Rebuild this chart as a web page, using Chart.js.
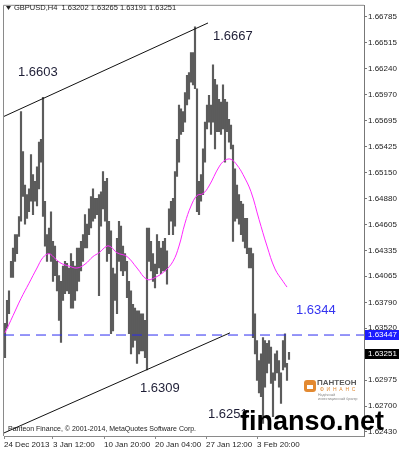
<!DOCTYPE html>
<html lang="en">
<head>
    <meta charset="UTF-8">
    <title>GBPUSD,H4</title>
    <script src="https://cdn.jsdelivr.net/npm/chart.js"></script>
    <style>
        html, body { margin: 0; padding: 0; background: #fff; }
        #grafico { display: block; }
    </style>
</head>
<body>
<canvas id="grafico" width="399" height="450"></canvas>

<script>
    // H4 bars, one per index (high / low)
    const barHigh = [
        1.6357, 1.6381, 1.6391, 1.6422, 1.6436, 1.6450, 1.6450, 1.6469, 1.6579, 1.6537,
        1.6502, 1.6492, 1.6498, 1.6534, 1.6513, 1.6506, 1.6521, 1.6547, 1.6550, 1.6594,
        1.6485, 1.6450, 1.6457, 1.6474, 1.6443, 1.6438, 1.6422, 1.6407, 1.6401, 1.6417,
        1.6422, 1.6420, 1.6415, 1.6430, 1.6422, 1.6417, 1.6436, 1.6436, 1.6443, 1.6450,
        1.6471, 1.6461, 1.6477, 1.6490, 1.6498, 1.6488, 1.6488, 1.6492, 1.6495, 1.6516,
        1.6506, 1.6509, 1.6464, 1.6454, 1.6415, 1.6409, 1.6446, 1.6464, 1.6459, 1.6438,
        1.6430, 1.6422, 1.6401, 1.6391, 1.6377, 1.6373, 1.6370, 1.6370, 1.6367, 1.6367,
        1.6360, 1.6457, 1.6457, 1.6443, 1.6430, 1.6419, 1.6450, 1.6443, 1.6436, 1.6443,
        1.6446, 1.6433, 1.6477, 1.6485, 1.6488, 1.6516, 1.6550, 1.6586, 1.6582, 1.6579,
        1.6599, 1.6617, 1.6620, 1.6641, 1.6641, 1.6668, 1.6603, 1.6506, 1.6513, 1.6540,
        1.6568, 1.6586, 1.6596, 1.6586, 1.6628, 1.6613, 1.6607, 1.6592, 1.6589, 1.6607,
        1.6592, 1.6589, 1.6571, 1.6565, 1.6544, 1.6519, 1.6502, 1.6492, 1.6485, 1.6482,
        1.6467, 1.6467, 1.6436, 1.6436, 1.6430, 1.6367, 1.6339, 1.6318, 1.6325, 1.6342,
        1.6339, 1.6336, 1.6339, 1.6332, 1.6305, 1.6325, 1.6328, 1.6318, 1.6305, 1.6339,
        1.6346, 1.6315, 1.63265
    ];
    const barLow = [
        1.6321, 1.6352, 1.6367, 1.6405, 1.6405, 1.6422, 1.6430, 1.6448, 1.6464, 1.6490,
        1.6461, 1.6467, 1.6474, 1.6485, 1.6471, 1.6485, 1.6480, 1.6498, 1.6526, 1.6469,
        1.6438, 1.6422, 1.6430, 1.6422, 1.6401, 1.6407, 1.6391, 1.6360, 1.6337, 1.6381,
        1.6388, 1.6391, 1.6388, 1.6373, 1.6373, 1.6381, 1.6391, 1.6401, 1.6412, 1.6422,
        1.6436, 1.6436, 1.6450, 1.6457, 1.6464, 1.6467, 1.6471, 1.6386, 1.6459, 1.6477,
        1.6464, 1.6422, 1.6430, 1.6346, 1.6349, 1.6381, 1.6367, 1.6422, 1.6412, 1.6407,
        1.6412, 1.6384, 1.6346, 1.6325, 1.6332, 1.6339, 1.6315, 1.6325, 1.6328, 1.6328,
        1.6321, 1.6308, 1.6422, 1.6412, 1.6401, 1.6394, 1.6409, 1.6415, 1.6409, 1.6412,
        1.6412, 1.6398, 1.6450, 1.6464, 1.6450, 1.6459, 1.6511, 1.6526, 1.6555, 1.6558,
        1.6568, 1.6586, 1.6592, 1.6610, 1.6607, 1.6603, 1.6474, 1.6471, 1.6485, 1.6492,
        1.6526, 1.6561, 1.6568, 1.6555, 1.6568, 1.6540, 1.6558, 1.6558, 1.6555, 1.6561,
        1.6526, 1.6558, 1.6547, 1.6540, 1.6443, 1.6464, 1.6467, 1.6461, 1.6450, 1.6443,
        1.6436, 1.6430, 1.6415, 1.6415, 1.6342, 1.6325, 1.6297, 1.6284, 1.6280, 1.6252,
        1.6290, 1.6305, 1.6315, 1.6294, 1.6259, 1.6297, 1.6305, 1.6290, 1.6273, 1.6308,
        1.6311, 1.6297, 1.63191
    ];

    // moving average (magenta), sampled along the curve
    const maIndex = [0, 4, 8, 12, 16, 19, 22, 25, 28, 32, 36, 40, 44, 47, 51, 53, 56, 61, 66, 71,
                     75, 80, 84, 87, 90, 93, 96, 99, 102, 107, 110, 113, 116, 119, 123, 127, 131, 135, 139, 141];
    const maValue = [1.6347, 1.6365, 1.6383, 1.6399, 1.6415, 1.6426, 1.6430, 1.6425, 1.6420, 1.6417,
                     1.6415, 1.6419, 1.6427, 1.6431, 1.6438, 1.6437, 1.6431, 1.6427, 1.6415, 1.6403,
                     1.6405, 1.6412, 1.6422, 1.6438, 1.6462, 1.6480, 1.6491, 1.6493, 1.6501, 1.6521,
                     1.6528, 1.6529, 1.6523, 1.6513, 1.6495, 1.6466, 1.6438, 1.6414, 1.6401, 1.6395];

    // channel lines (bar index / price at both ends)
    const channelUpIdx = [-0.5, 101.5];
    const channelUpVal = [1.6574, 1.6672];
    const channelLowIdx = [-0.5, 112.5];
    const channelLowVal = [1.6242, 1.6347];

    const levelValue = 1.63447;
    const lastClose = 1.63251;

    const yTicks = [1.66785, 1.66515, 1.66240, 1.65970, 1.65695, 1.65425, 1.65150, 1.64880,
                    1.64605, 1.64335, 1.64065, 1.63790, 1.63520, 1.62975, 1.62700, 1.62430];
    const xTickIdx = [-0.5, 24, 49.5, 75, 100.5, 126];
    const xTickLabels = ['24 Dec 2013', '3 Jan 12:00', '10 Jan 20:00', '20 Jan 04:00', '27 Jan 12:00', '3 Feb 20:00'];

    // notes written on the chart
    const noteText = ['1.6603', '1.6667', '1.6344', '1.6309', '1.6251'];
    const noteIdx = [6.5, 104, 145.5, 67.5, 101.5];
    const noteVal = [1.6620, 1.6658, 1.6371, 1.6289, 1.6261];
    const noteColor = ['#1e1e36', '#1e1e36', '#3434f0', '#1e1e36', '#1e1e36'];

    const FONT = "'Liberation Sans', Arial, sans-serif";

    const extras = {
        id: 'extras',
        beforeDatasetsDraw(chart) {
            const ctx = chart.ctx, a = chart.chartArea;
            ctx.save();
            ctx.strokeStyle = '#8a8a8a';
            ctx.lineWidth = 1;
            ctx.beginPath();
            ctx.moveTo(a.left - 0.5, a.bottom);
            ctx.lineTo(a.left - 0.5, a.top - 0.5);
            ctx.lineTo(a.right, a.top - 0.5);
            ctx.stroke();
            ctx.restore();
        },
        afterDraw(chart) {
            const ctx = chart.ctx, a = chart.chartArea;
            const x = chart.scales.x, y = chart.scales.y;
            ctx.save();

            // notes
            ctx.font = '13px ' + FONT;
            ctx.textBaseline = 'middle';
            ctx.textAlign = 'left';
            noteText.forEach((t, i) => {
                ctx.fillStyle = noteColor[i];
                ctx.fillText(t, x.getPixelForValue(noteIdx[i]), y.getPixelForValue(noteVal[i]));
            });

            // header
            ctx.fillStyle = '#222';
            ctx.beginPath();
            ctx.moveTo(6, 6); ctx.lineTo(11, 6); ctx.lineTo(8.5, 10); ctx.closePath();
            ctx.fill();
            ctx.font = '7.5px ' + FONT;
            ctx.fillText('GBPUSD,H4  1.63202 1.63265 1.63191 1.63251', 14, 8);

            // copyright
            ctx.fillStyle = '#222';
            ctx.font = '7px ' + FONT;
            ctx.fillText('Panteon Finance, \u00a9 2001-2014, MetaQuotes Software Corp.', 8, 429);

            // logo
            ctx.fillStyle = '#e38a32';
            ctx.beginPath();
            ctx.roundRect(304, 380, 12, 12, 3);
            ctx.fill();
            ctx.fillStyle = '#fff';
            ctx.fillRect(307, 385, 6, 4);
            ctx.fillStyle = '#5a5a5a';
            ctx.font = 'bold 8px ' + FONT;
            ctx.fillText('\u041f\u0410\u041d\u0422\u0415\u041e\u041d', 317, 383);
            ctx.fillStyle = '#e38a32';
            ctx.font = '5px ' + FONT;
            ctx.fillText('\u0424  \u0418  \u041d  \u0410  \u041d  \u0421', 320, 390);
            ctx.fillStyle = '#888';
            ctx.font = '3.5px ' + FONT;
            ctx.fillText('\u041d\u0430\u0434\u0451\u0436\u043d\u044b\u0439', 318, 395);
            ctx.fillText('\u0438\u043d\u0432\u0435\u0441\u0442\u0438\u0446\u0438\u043e\u043d\u043d\u044b\u0439 \u0431\u0440\u043e\u043a\u0435\u0440', 318, 399);

            // watermark
            ctx.fillStyle = '#000';
            ctx.font = 'bold 27px ' + FONT;
            ctx.textBaseline = 'alphabetic';
            ctx.fillText('finanso.net', 240, 430);

            // price boxes on the axis
            ctx.font = '8px ' + FONT;
            ctx.textBaseline = 'middle';
            [[levelValue, '#1c1cff'], [lastClose, '#000']].forEach(([v, c]) => {
                const py = Math.round(y.getPixelForValue(v));
                ctx.fillStyle = c;
                ctx.fillRect(a.right + 1, py - 5, 399 - a.right - 1, 10);
                ctx.fillStyle = '#fff';
                ctx.fillText(v.toFixed(5), a.right + 4, py);
            });
            ctx.restore();
        }
    };

    const data = {
        datasets: [
            {
                type: 'line',
                data: maIndex.map((v, i) => ({x: v, y: maValue[i]})),
                borderColor: '#ff28ff',
                borderWidth: 1,
                pointRadius: 0,
                tension: 0.4
            },
            {
                type: 'line',
                data: channelUpIdx.map((v, i) => ({x: v, y: channelUpVal[i]})),
                borderColor: '#111',
                borderWidth: 1,
                pointRadius: 0
            },
            {
                type: 'line',
                data: channelLowIdx.map((v, i) => ({x: v, y: channelLowVal[i]})),
                borderColor: '#111',
                borderWidth: 1,
                pointRadius: 0
            },
            {
                type: 'line',
                data: [{x: -0.5, y: levelValue}, {x: 179.5, y: levelValue}],
                borderColor: '#2c2cf0',
                borderWidth: 1,
                borderDash: [10, 6],
                pointRadius: 0
            },
            {
                type: 'bar',
                data: barHigh.map((h, i) => ({x: i, y: [barLow[i], h]})),
                backgroundColor: '#5c5c5c',
                barThickness: 1.5,
                borderWidth: 0
            }
        ]
    };

    const config = {
        data: data,
        options: {
            responsive: false,
            animation: false,
            layout: { padding: { left: 4, top: 3, right: 0, bottom: 0 } },
            plugins: { legend: { display: false }, tooltip: { enabled: false } },
            scales: {
                x: {
                    type: 'linear',
                    offset: false,
                    min: -0.5,
                    max: 179.5,
                    afterBuildTicks: (axis) => { axis.ticks = xTickIdx.map(v => ({value: v})); },
                    afterFit: (axis) => { axis.height = 14; axis.paddingLeft = 0; axis.paddingRight = 0; },
                    ticks: {
                        callback: (v, i) => xTickLabels[i],
                        autoSkip: false,
                        maxRotation: 0,
                        align: 'start',
                        padding: 1,
                        color: '#222',
                        font: { family: FONT, size: 8 }
                    },
                    grid: { offset: false, drawOnChartArea: false, tickLength: 3, color: '#8a8a8a' },
                    border: { color: '#8a8a8a' }
                },
                y: {
                    position: 'right',
                    min: 1.62388,
                    max: 1.66900,
                    afterBuildTicks: (axis) => { axis.ticks = yTicks.map(v => ({value: v})); },
                    afterFit: (axis) => { axis.width = 35; },
                    ticks: {
                        callback: (v) => v.toFixed(5),
                        autoSkip: false,
                        padding: 1,
                        color: '#222',
                        font: { family: FONT, size: 8 }
                    },
                    grid: { drawOnChartArea: false, tickLength: 3, color: '#777' },
                    border: { color: '#777' }
                }
            }
        },
        plugins: [extras]
    };

    const grafico = new Chart(document.getElementById('grafico'), config);
</script>
</body>
</html>
